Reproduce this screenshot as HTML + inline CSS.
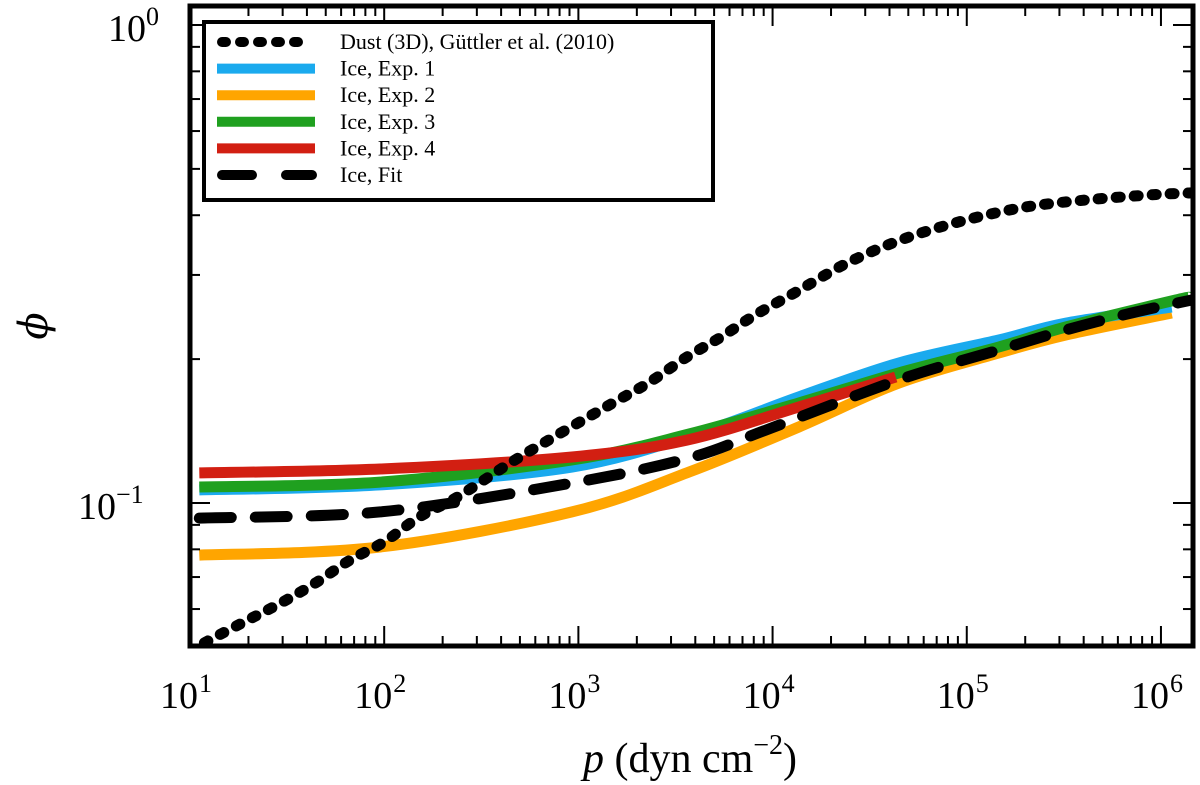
<!DOCTYPE html>
<html><head><meta charset="utf-8"><style>
html,body{margin:0;padding:0;background:#fff;}
svg{display:block;font-family:"Liberation Serif",serif;}
</style></head><body>
<svg id="chart" width="1200" height="785" viewBox="0 0 1200 785" xmlns="http://www.w3.org/2000/svg">
<g id="series"></g>
<g id="axes"></g>
<g id="legend"></g>
</svg>
<script>
// x values are log10(p / dyn cm^-2), y values are phi
const dustP=[1.074,1.279,1.469,1.645,1.825,2.0,2.181,2.376,2.649,2.829,3.024,3.204,3.359,3.559,3.735,3.910,4.121,4.394,4.687,4.996,5.304,5.613,5.938,6.143,6.2];
const dustPhi=[0.0510,0.0564,0.0618,0.0680,0.0760,0.0829,0.0935,0.1029,0.1213,0.1341,0.1491,0.1642,0.1782,0.2020,0.2225,0.2473,0.2763,0.3192,0.3583,0.3909,0.4161,0.4304,0.4409,0.4451,0.4460];
const exp1P=[1.048,1.979,2.967,3.621,4.135,4.650,5.165,5.510,6.055];
const exp1Phi=[0.1065,0.1091,0.1189,0.1401,0.1667,0.1963,0.2193,0.2379,0.2570];
const exp2P=[1.048,1.979,2.967,3.570,4.135,4.650,5.165,5.510,6.055];
const exp2Phi=[0.0778,0.0809,0.0958,0.1161,0.1442,0.1782,0.2060,0.2246,0.2497];
const exp3P=[1.048,1.979,2.967,3.570,4.135,4.650,5.165,5.510,6.076,6.143];
const exp3Phi=[0.1080,0.1106,0.1230,0.1394,0.1619,0.1871,0.2120,0.2335,0.2659,0.2685];
const exp4P=[1.048,1.979,2.967,3.559,4.135,4.634];
const exp4Phi=[0.1156,0.1178,0.1248,0.1354,0.1588,0.1835];
const fitP=[1.048,1.979,2.967,3.570,3.965,4.650,5.165,5.510,5.849,6.159,6.2];
const fitPhi=[0.0930,0.0958,0.1101,0.1242,0.1421,0.1809,0.2090,0.2301,0.2497,0.2659,0.2680];
const xTickLabels=["1","2","3","4","5","6"];
const yTickLabels=["0","\u22121"];
const legendLabels=["Dust (3D), G\u00fcttler et al. (2010)","Ice, Exp. 1","Ice, Exp. 2","Ice, Exp. 3","Ice, Exp. 4","Ice, Fit"];

const NS="http://www.w3.org/2000/svg";
const L=190,R=1193,T=6,B=646;
const XMIN=1.0,XMAX=6.165;
const Y0=25,D=478;
function xs(lp){return L+(lp-XMIN)/(XMAX-XMIN)*(R-L);}
function ys(phi){return Y0-Math.log10(phi)*D;}
function mk(tag,attrs,parent){const e=document.createElementNS(NS,tag);for(const k in attrs)e.setAttribute(k,attrs[k]);parent.appendChild(e);return e;}
function smoothPath(px,py){
  const pts=px.map((p,i)=>[xs(p),ys(py[i])]);
  let d="M"+pts[0][0].toFixed(1)+","+pts[0][1].toFixed(1);
  for(let i=0;i<pts.length-1;i++){
    const p0=pts[Math.max(0,i-1)],p1=pts[i],p2=pts[i+1],p3=pts[Math.min(pts.length-1,i+2)];
    const c1=[p1[0]+(p2[0]-p0[0])/6,p1[1]+(p2[1]-p0[1])/6];
    const c2=[p2[0]-(p3[0]-p1[0])/6,p2[1]-(p3[1]-p1[1])/6];
    d+=" C"+c1.map(v=>v.toFixed(1)).join(",")+" "+c2.map(v=>v.toFixed(1)).join(",")+" "+p2[0].toFixed(1)+","+p2[1].toFixed(1);
  }
  return d;
}
const sg=document.getElementById('series');
const defs=mk('defs',{},sg);
const cp=mk('clipPath',{id:'clip'},defs);
mk('rect',{x:L,y:T,width:R-L,height:B-T},cp);
const cg=mk('g',{'clip-path':'url(#clip)'},sg);
let e;
e=mk('path',{d:smoothPath(exp2P,exp2Phi),fill:'none',stroke:'#ffa500','stroke-width':11},cg);


e=mk('path',{d:smoothPath(exp1P,exp1Phi),fill:'none',stroke:'#1aaaee','stroke-width':11},cg);


e=mk('path',{d:smoothPath(exp3P,exp3Phi),fill:'none',stroke:'#1fa01f','stroke-width':11},cg);


e=mk('path',{d:smoothPath(exp4P,exp4Phi),fill:'none',stroke:'#d21f12','stroke-width':11},cg);


e=mk('path',{d:smoothPath(fitP,fitPhi),fill:'none',stroke:'#000','stroke-width':11,'stroke-dasharray':'32 24','stroke-linecap':'round'},cg);


e=mk('path',{d:smoothPath(dustP,dustPhi),fill:'none',stroke:'#000','stroke-width':11,'stroke-dasharray':'4 14','stroke-linecap':'round'},cg);



const ag=document.getElementById('axes');
for(let dec=1;dec<=6;dec++){
  for(let m=1;m<10;m++){
    const lp=dec+Math.log10(m);
    if(lp>XMAX) break;
    const x=xs(lp),len=m===1?20:10;
    mk('line',{x1:x,y1:B,x2:x,y2:B-len,stroke:'#000','stroke-width':2},ag);
    mk('line',{x1:x,y1:T,x2:x,y2:T+len,stroke:'#000','stroke-width':2},ag);
  }
}
for(let dec=-2;dec<=0;dec++){
  for(let m=1;m<10;m++){
    const v=Math.pow(10,dec)*m;const y=ys(v);
    if(y<T||y>B) continue;
    const len=m===1?20:10;
    mk('line',{x1:L,y1:y,x2:L+len,y2:y,stroke:'#000','stroke-width':2},ag);
    mk('line',{x1:R,y1:y,x2:R-len,y2:y,stroke:'#000','stroke-width':2},ag);
  }
}
e=mk('rect',{x:L,y:T,width:R-L,height:B-T,fill:'none',stroke:'#000','stroke-width':5},ag);


xTickLabels.forEach((s,i)=>{
  const x=xs(i+1);
  const t=mk('text',{x:x-4,y:708,'font-size':38,'text-anchor':'middle'},ag);
  t.textContent='10';
  
  
  const sp=mk('tspan',{dy:-16,'font-size':26,dx:1},t);sp.textContent=s;
});
yTickLabels.forEach((s,i)=>{
  const y=ys(Math.pow(10,-i));
  const t=mk('text',{x:s==='0'?108:78,y:y+16,'font-size':38},ag);
  t.textContent='10';
  
  
  const sp=mk('tspan',{dy:-16,'font-size':26},t);sp.textContent=s;
});
e=mk('text',{x:690,y:772,'font-size':42,'text-anchor':'middle'},ag);


e.innerHTML='<tspan font-style="italic">p</tspan> (dyn cm<tspan dy="-18" font-size="28">\u22122</tspan><tspan dy="18">)</tspan>';
e=mk('text',{x:0,y:0,'font-size':40,'font-style':'italic','font-family':'"DejaVu Serif", serif','text-anchor':'middle',transform:'translate(47,326) rotate(-90)'},ag);


e.textContent='\u03d5';

const lg=document.getElementById('legend');
e=mk('rect',{x:204,y:22,width:509,height:178,fill:'#fff',stroke:'#000','stroke-width':4},lg);


const styles=[
 {stroke:'#000',da:'4 14',cap:'round'},
 {stroke:'#1aaaee'},{stroke:'#ffa500'},{stroke:'#1fa01f'},{stroke:'#d21f12'},
 {stroke:'#000',da:'30 34',cap:'round'}];
legendLabels.forEach((s,i)=>{
  const y=42+i*26.6;
  const g=mk('g',{},lg);
  
  
  const st=styles[i];
  const a={x1:st.cap?222:217,y1:y,x2:st.cap?312:315,y2:y,stroke:st.stroke,'stroke-width':10};
  if(st.da){a['stroke-dasharray']=st.da;a['stroke-linecap']=st.cap;}
  mk('line',a,g);
  const t=mk('text',{x:340,y:y+7,'font-size':22},g);t.textContent=s;
});
</script>
</body></html>
